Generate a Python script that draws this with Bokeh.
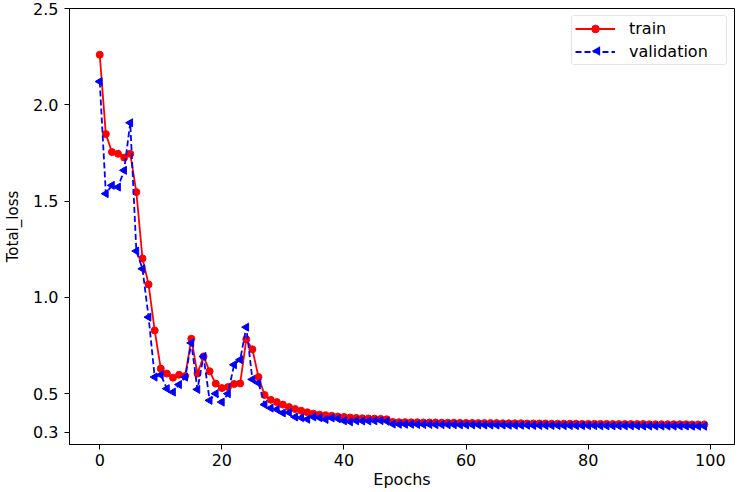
import math
from bokeh.plotting import figure
from bokeh.models import Range1d, FixedTicker, Legend, LegendItem, PolyAnnotation
from bokeh.embed import file_html
from bokeh.resources import INLINE

# Loss per epoch
epochs = list(range(100))

train_loss = [
    2.260, 1.848, 1.755, 1.746, 1.726, 1.746, 1.547, 1.203, 1.068, 0.829,
    0.631, 0.605, 0.584, 0.599, 0.592, 0.786, 0.605, 0.694, 0.617, 0.553,
    0.530, 0.535, 0.551, 0.554, 0.783, 0.731, 0.587, 0.494, 0.469, 0.457,
    0.444, 0.431, 0.421, 0.412, 0.404, 0.397, 0.392, 0.389, 0.386, 0.382,
    0.380, 0.377, 0.375, 0.373, 0.372, 0.371, 0.370, 0.368,
    0.354, 0.353, 0.353, 0.352, 0.352, 0.351, 0.351, 0.351, 0.350, 0.350,
    0.350, 0.349, 0.349, 0.349, 0.348, 0.348, 0.348, 0.348, 0.347, 0.347,
    0.347, 0.347, 0.346, 0.346, 0.346, 0.346, 0.345, 0.345, 0.345, 0.345,
    0.345, 0.344, 0.344, 0.344, 0.344, 0.344, 0.343, 0.343, 0.343, 0.343,
    0.343, 0.343, 0.342, 0.342, 0.342, 0.342, 0.342, 0.342, 0.342, 0.341,
    0.341, 0.341,
]

val_loss = [
    2.121, 1.539, 1.582, 1.573, 1.660, 1.907, 1.241, 1.149, 0.898, 0.587,
    0.599, 0.527, 0.509, 0.548, 0.587, 0.764, 0.523, 0.694, 0.466, 0.501,
    0.457, 0.501, 0.651, 0.677, 0.846, 0.575, 0.556, 0.444, 0.426, 0.419,
    0.401, 0.403, 0.380, 0.376, 0.368, 0.380, 0.376, 0.367, 0.375, 0.371,
    0.360, 0.355, 0.360, 0.359, 0.359, 0.360, 0.361, 0.358,
    0.343, 0.342, 0.342, 0.342, 0.341, 0.341, 0.341, 0.340, 0.340, 0.340,
    0.340, 0.339, 0.339, 0.339, 0.339, 0.338, 0.338, 0.338, 0.338, 0.337,
    0.337, 0.337, 0.337, 0.336, 0.336, 0.336, 0.336, 0.336, 0.335, 0.335,
    0.335, 0.335, 0.335, 0.335, 0.334, 0.334, 0.334, 0.334, 0.334, 0.334,
    0.334, 0.333, 0.333, 0.333, 0.333, 0.333, 0.333, 0.333, 0.333, 0.332,
    0.332, 0.332,
]

x_ticks = [0, 20, 40, 60, 80, 100]
y_ticks = [0.3, 0.5, 1.0, 1.5, 2.0, 2.5]
y_tick_labels = ["0.3", "0.5", "1.0", "1.5", "2.0", "2.5"]

FONT = "DejaVu Sans"
W, H = 738, 492
BORDER_L, BORDER_R, BORDER_T, BORDER_B = 69, 4, 8, 48

p = figure(
    width=W, height=H,
    x_range=Range1d(-4.95, 103.95),
    y_range=Range1d(0.237, 2.5),
    output_backend="svg", toolbar_location=None,
    min_border_left=BORDER_L, min_border_right=BORDER_R,
    min_border_top=BORDER_T, min_border_bottom=BORDER_B,
)
p.background_fill_color = "white"
p.border_fill_color = "white"
p.grid.visible = False
p.outline_line_color = "black"
p.outline_line_width = 1

# Axes styling
for ax in (p.xaxis[0], p.yaxis[0]):
    ax.axis_line_color = "black"
    ax.major_tick_line_color = "black"
    ax.major_tick_out = 5
    ax.major_tick_in = 0
    ax.minor_tick_out = 0
    ax.minor_tick_in = 0
    ax.major_label_text_font = FONT
    ax.major_label_text_font_size = "16px"
    ax.major_label_text_color = "black"
    ax.axis_label_text_font = FONT
    ax.axis_label_text_font_style = "normal"
    ax.axis_label_text_color = "black"

p.xaxis.ticker = FixedTicker(ticks=x_ticks)
p.yaxis.ticker = FixedTicker(ticks=y_ticks)
p.yaxis.major_label_overrides = {t: s for t, s in zip(y_ticks, y_tick_labels)}
p.yaxis.major_label_standoff = 6
p.xaxis.major_label_standoff = 4
p.xaxis.axis_label = "Epochs"
p.xaxis.axis_label_text_font_size = "16px"
p.xaxis.axis_label_standoff = 1
p.yaxis.axis_label = "Total_loss"
p.yaxis.axis_label_text_font_size = "15px"
p.yaxis.axis_label_standoff = 8

# Training curve
tr_line = p.line(epochs, train_loss, line_color="red", line_width=1.8)
tr_pts = p.scatter(epochs, train_loss, marker="circle", size=7,
                   fill_color="red", line_color="red")

# Validation curve (left-pointing triangles)
va_line = p.line(epochs, val_loss, line_color="blue", line_width=1.8,
                 line_dash="6 3")
va_pts = p.scatter(epochs, val_loss, marker="triangle", size=8,
                   angle=math.pi / 2,
                   fill_color="blue", line_color="blue")

# Legend geometry
LEG_MARGIN = 7
LEG_PAD = 3
LEG_SPACING = 4
GLYPH_W = 40
GLYPH_H = 19
LABEL_STANDOFF = 14
LABEL_W = 94

legend = Legend(
    items=[
        LegendItem(label="train", renderers=[tr_line, tr_pts]),
        LegendItem(label="validation", renderers=[va_line]),
    ],
    location="top_right",
    margin=LEG_MARGIN,
    padding=LEG_PAD,
    spacing=LEG_SPACING,
    glyph_width=GLYPH_W,
    glyph_height=GLYPH_H,
    label_standoff=LABEL_STANDOFF,
    label_width=LABEL_W,
    label_height=GLYPH_H,
    label_text_font=FONT,
    label_text_font_size="16px",
    label_text_color="black",
    label_text_baseline="middle",
    border_line_color="#cccccc",
    border_line_width=1,
    border_radius=3,
    background_fill_alpha=0.0,
)
p.add_layout(legend)

# Left-pointing key marker for the validation entry
leg_width = 2 * LEG_PAD + GLYPH_W + LABEL_STANDOFF + LABEL_W
leg_left = W - BORDER_R - LEG_MARGIN - leg_width
cx = leg_left + LEG_PAD + GLYPH_W / 2
cy = BORDER_T + LEG_MARGIN + LEG_PAD + GLYPH_H + LEG_SPACING + GLYPH_H / 2
key = PolyAnnotation(
    xs=[cx - 4.5, cx + 3.5, cx + 3.5], ys=[cy, cy - 4.5, cy + 4.5],
    xs_units="canvas", ys_units="canvas",
    fill_color="blue", fill_alpha=1.0, line_color="blue", line_width=1,
)
p.add_layout(key)

open("out.html", "w").write(file_html(p, INLINE))
